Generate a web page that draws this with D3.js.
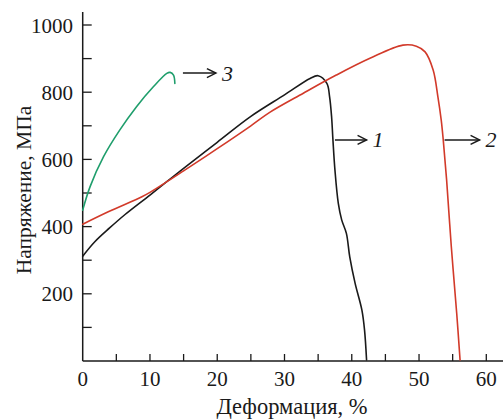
<!DOCTYPE html>
<html>
<head>
<meta charset="utf-8">
<script src="https://cdn.jsdelivr.net/npm/d3@7/dist/d3.min.js"></script>
<style>
  html, body { margin: 0; padding: 0; background: #ffffff; }
  svg { display: block; }
  text { font-family: "Liberation Serif", "Times New Roman", serif; fill: #1a1a1a; }
</style>
</head>
<body>
<svg id="chart" width="503" height="420"></svg>
<script>
// ---- Data ----
const strain1 = [0, 1.8, 4, 6.3, 10, 12.5, 15, 20, 25, 30, 33.8, 35, 36.3, 36.7, 37.0, 37.2, 37.5, 38.0, 38.5, 39.2, 39.7, 40.5, 41.5, 41.9, 42.2];
const stress1 = [312, 355, 396, 436, 494, 534, 573, 651, 728, 792, 841, 849, 826, 787, 727, 658, 568, 469, 420, 380, 310, 231, 152, 92, 3];

const strain2 = [0, 3.8, 8.8, 10, 12.7, 15, 20, 25, 27.8, 32.8, 37.7, 42.7, 47.6, 49.6, 50.9, 52.1, 52.8, 53.3, 53.6, 54.1, 54.8, 55.6, 56.1];
const stress2 = [407, 444, 489, 502, 536, 566, 632, 700, 740, 797, 851, 901, 940, 937, 920, 866, 787, 717, 658, 539, 340, 142, 3];

const strain3 = [0, 1.1, 3.1, 5.5, 8.0, 10.5, 12.5, 13.0, 13.5, 13.7];
const stress3 = [449, 519, 608, 687, 757, 816, 856, 859, 851, 826];

const curveLabels = ["1", "2", "3"];
const arrowStart = [37.5, 53.8, 14.9];
const arrowEnd = [42.2, 59.0, 19.8];
const arrowStress = [658, 658, 857];
const curveColors = ["#1a1a1a", "#d23a2a", "#1f9e6c"];

const xTicksMajor = [0, 10, 20, 30, 40, 50, 60];
const xTicksMinor = [5, 10, 15, 20, 25, 30, 35, 40, 45, 50, 55, 60];
const yTicksMajor = [200, 400, 600, 800, 1000];
const yTicksMinor = [100, 200, 300, 400, 500, 600, 700, 800, 900, 1000];

const xTitle = "Деформация, %";
const yTitle = "Напряжение, МПа";

// ---- Scales ----
const svg = d3.select("#chart");
const x = d3.scaleLinear().domain([0, 60]).range([82.7, 486.3]);
const y = d3.scaleLinear().domain([0, 1000]).range([361, 25]);

const axisColor = "#1a1a1a";

// Axes lines
svg.append("line").attr("x1", x(0)).attr("x2", 503).attr("y1", y(0)).attr("y2", y(0))
  .attr("stroke", axisColor).attr("stroke-width", 1.5);
svg.append("line").attr("x1", x(0)).attr("x2", x(0)).attr("y1", y(0)).attr("y2", 12)
  .attr("stroke", axisColor).attr("stroke-width", 1.5);

// Ticks (inward)
svg.selectAll(".xt").data(xTicksMinor).enter().append("line")
  .attr("x1", d => x(d)).attr("x2", d => x(d))
  .attr("y1", y(0)).attr("y2", y(0) - 7)
  .attr("stroke", axisColor).attr("stroke-width", 1.3);
svg.selectAll(".yt").data(yTicksMinor).enter().append("line")
  .attr("x1", x(0)).attr("x2", x(0) + 9)
  .attr("y1", d => y(d)).attr("y2", d => y(d))
  .attr("stroke", axisColor).attr("stroke-width", 1.3);

// Tick labels
svg.selectAll(".xl").data(xTicksMajor).enter().append("text")
  .attr("x", d => x(d)).attr("y", 386)
  .attr("text-anchor", "middle").attr("font-size", 21)
  .text(d => d);
svg.selectAll(".yl").data(yTicksMajor).enter().append("text")
  .attr("x", 73).attr("y", d => y(d) + 7.5)
  .attr("text-anchor", "end").attr("font-size", 21)
  .text(d => d);

// Titles
svg.append("text").attr("x", 292).attr("y", 414)
  .attr("text-anchor", "middle").attr("font-size", 22.5).text(xTitle);
svg.append("text").attr("transform", "translate(31,190) rotate(-90)")
  .attr("text-anchor", "middle").attr("font-size", 21.5).text(yTitle);

// Curves
const series = [
  strain1.map((s, i) => [s, stress1[i]]),
  strain2.map((s, i) => [s, stress2[i]]),
  strain3.map((s, i) => [s, stress3[i]])
];
const line = d3.line().x(d => x(d[0])).y(d => y(d[1])).curve(d3.curveCatmullRom.alpha(0.5));
series.forEach((pts, i) => {
  svg.append("path").datum(pts).attr("d", line)
    .attr("fill", "none").attr("stroke", curveColors[i]).attr("stroke-width", 1.6)
    .attr("stroke-linejoin", "round").attr("stroke-linecap", "round");
});

// Arrows and labels
curveLabels.forEach((lab, i) => {
  const x1 = x(arrowStart[i]), x2 = x(arrowEnd[i]), yy = y(arrowStress[i]);
  svg.append("line").attr("x1", x1).attr("x2", x2).attr("y1", yy).attr("y2", yy)
    .attr("stroke", "#1a1a1a").attr("stroke-width", 1.5);
  svg.append("path")
    .attr("d", `M${x2 - 9},${yy - 4.5} L${x2},${yy} L${x2 - 9},${yy + 4.5}`)
    .attr("fill", "none").attr("stroke", "#1a1a1a").attr("stroke-width", 1.5);
  svg.append("text").attr("x", x2 + 6).attr("y", yy + 7.5)
    .attr("font-size", 22).attr("font-style", "italic").text(lab);
});
</script>
</body>
</html>
